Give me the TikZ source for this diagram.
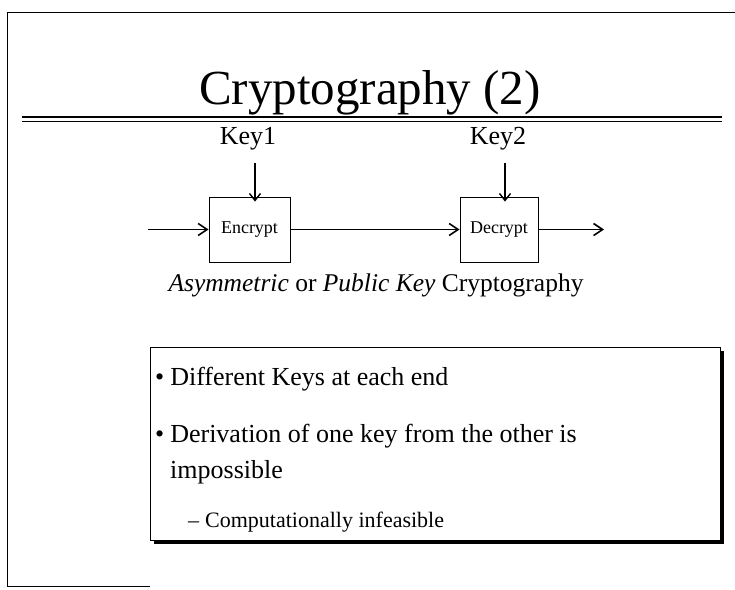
\documentclass[tikz,border=0pt]{standalone}
\usepackage{fontspec}
\setmainfont{Liberation Serif}
\usetikzlibrary{arrows.meta}
\begin{document}
\begin{tikzpicture}[x=1pt,y=-1pt,
  txt/.style={inner sep=0pt},
  procbox/.style={draw,line width=0.8pt,minimum width=81pt,minimum height=65pt,inner sep=0pt,font=\fontsize{18}{20}\selectfont},
  flow/.style={line width=1.6pt,-{Straight Barb[length=9pt,width=12pt,line width=1.6pt]}},
  keyarrow/.style={line width=1.4pt,-{Straight Barb[length=7pt,width=11pt,line width=1.4pt]}},
  bullet/.style={txt,anchor=base west,font=\fontsize{26}{30}\selectfont}
]
\useasboundingbox (0,0) rectangle (735,589);
% slide frame
\draw[line width=1pt] (7,586) -- (7,12) -- (735,12);
\draw[line width=0.6pt] (7,586) -- (150,586);
% title
\node[txt,anchor=base,font=\fontsize{49}{54}\selectfont] (title) at (370,104) {Cryptography (2)};
\draw[line width=2pt] (22,117) -- (722,117);
\draw[line width=0.7pt] (22,121) -- (722,121);
% keys
\node[txt,anchor=base,font=\fontsize{26}{28}\selectfont] (key1) at (248,144) {Key1};
\node[txt,anchor=base,font=\fontsize{26}{28}\selectfont] (key2) at (498,144) {Key2};
% boxes
\node[procbox] (enc) at (249.5,229.5) {Encrypt};
\node[procbox,minimum width=78pt] (dec) at (499,229.5) {Decrypt};
\coordinate (k1) at (255,163);
\coordinate (k2) at (505,163);
\coordinate (in) at (148,229.5);
\coordinate (out) at (604,229.5);
\draw[keyarrow] (k1) -- ([yshift=-5pt]enc.north -| k1);
\draw[keyarrow] (k2) -- ([yshift=-5pt]dec.north -| k2);
\draw[flow] (in) -- (enc.west);
\draw[flow] (enc.east) -- (dec.west);
\draw[flow] (dec.east) -- (out);
% subtitle
\node[txt,anchor=base,font=\fontsize{25.5}{30}\selectfont] (sub) at (376,291) {\textit{Asymmetric} or \textit{Public Key} Cryptography};
% bullet box with shadow
\fill (154,351) rectangle (724,544);
\draw[fill=white,line width=0.8pt] (150,347) rectangle (720,540);
\node[bullet] (b1) at (155,385) {•\hspace{6pt}Different Keys at each end};
\node[bullet] (b2) at (155,442) {•\hspace{6pt}Derivation of one key from the other is};
\node[bullet] (b3) at (170,478) {impossible};
\node[bullet,font=\fontsize{22}{26}\selectfont] (b4) at (188,527) {–\hspace{6pt}Computationally infeasible};
\end{tikzpicture}
\end{document}
